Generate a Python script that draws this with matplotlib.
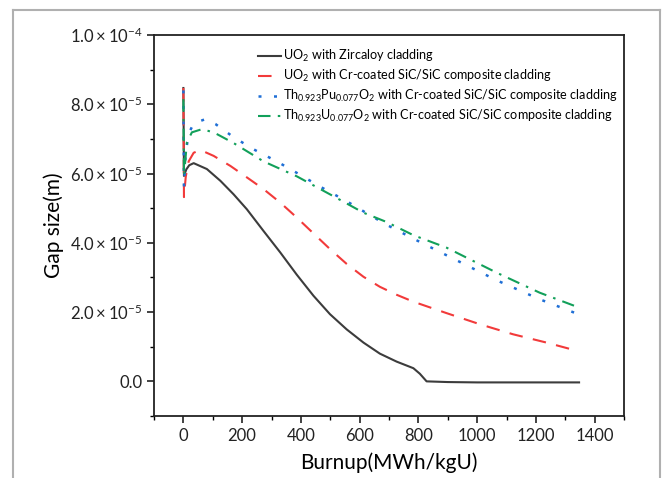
import matplotlib
matplotlib.use("Agg")
import matplotlib.pyplot as plt
import numpy as np
from matplotlib.ticker import MultipleLocator, FuncFormatter
from matplotlib.lines import Line2D

plt.rcParams['font.family'] = ['Lato', 'DejaVu Sans']
plt.rcParams['mathtext.fontset'] = 'custom'
plt.rcParams['mathtext.rm'] = 'Lato'
plt.rcParams['mathtext.it'] = 'Lato:italic'
plt.rcParams['mathtext.bf'] = 'Lato:bold'

# ---- data (burnup MWh/kgU, gap size in 1e-5 m) ----
uo2_zr_x = [0, 2, 10, 20, 35, 80, 126, 171, 216, 273, 330, 386, 443, 499, 556, 613, 669, 726, 783, 805, 828, 900, 1000, 1200, 1347]
uo2_zr_y = [8.47, 5.93, 6.12, 6.24, 6.30, 6.13, 5.79, 5.40, 4.97, 4.34, 3.72, 3.08, 2.47, 1.94, 1.50, 1.12, 0.80, 0.57, 0.38, 0.22, 0.00, -0.02, -0.03, -0.03, -0.03]

uo2_sic_x = [0, 2, 8, 18, 35, 58, 103, 160, 216, 273, 330, 386, 443, 499, 556, 613, 669, 726, 783, 896, 1009, 1122, 1236, 1345]
uo2_sic_y = [8.47, 5.32, 5.90, 6.35, 6.60, 6.68, 6.51, 6.22, 5.89, 5.55, 5.16, 4.73, 4.27, 3.82, 3.39, 3.02, 2.73, 2.50, 2.30, 1.97, 1.65, 1.36, 1.12, 0.87]

thpu_x = [0, 2, 8, 18, 35, 75, 109, 171, 239, 318, 386, 466, 556, 635, 692, 783, 896, 1066, 1213, 1335]
thpu_y = [8.40, 5.60, 6.60, 7.15, 7.45, 7.57, 7.43, 7.05, 6.70, 6.35, 6.02, 5.62, 5.20, 4.80, 4.52, 4.12, 3.64, 2.92, 2.37, 1.97]

thu_x = [0, 2, 12, 29, 63, 103, 171, 273, 386, 499, 613, 692, 783, 896, 1066, 1213, 1347]
thu_y = [8.15, 5.93, 6.90, 7.19, 7.28, 7.19, 6.88, 6.35, 5.92, 5.40, 4.87, 4.60, 4.22, 3.86, 3.14, 2.56, 2.13]

labels = [
    r'UO$_2$ with Zircaloy cladding',
    r'UO$_2$ with Cr-coated SiC/SiC composite cladding',
    r'Th$_{0.923}$Pu$_{0.077}$O$_2$ with Cr-coated SiC/SiC composite cladding',
    r'Th$_{0.923}$U$_{0.077}$O$_2$ with Cr-coated SiC/SiC composite cladding',
]

fig = plt.figure(figsize=(6.63, 4.78), dpi=100)
ax = fig.add_axes([154/663, 1-416/478, 470/663, 381/478])

scale = 1e-5
ax.plot(uo2_zr_x, np.array(uo2_zr_y)*scale, color='#3c3c3c', lw=1.5, label=labels[0])
ax.plot(uo2_sic_x, np.array(uo2_sic_y)*scale, color='#f23a3a', lw=1.5, dashes=(6.5, 5), label=labels[1])
ax.plot(thpu_x, np.array(thpu_y)*scale, color='#1f6fd6', lw=1.8, dashes=(1.2, 5), label=labels[2])
ax.plot(thu_x, np.array(thu_y)*scale, color='#12a05a', lw=1.5, dashes=(6, 3.5, 1.2, 3.5), label=labels[3])

ax.set_xlim(-100, 1500)
ax.set_ylim(-1e-5, 1e-4)
ax.xaxis.set_major_locator(MultipleLocator(200))
ax.xaxis.set_minor_locator(MultipleLocator(100))
ax.yaxis.set_major_locator(MultipleLocator(2e-5))
ax.yaxis.set_minor_locator(MultipleLocator(1e-5))

def yfmt(v, pos):
    if abs(v) < 1e-12:
        return '0.0'
    e = int(np.floor(np.log10(abs(v)) + 1e-9))
    m = v / 10**e
    return r'$%.1f\times10^{%d}$' % (m, e)

ax.yaxis.set_major_formatter(FuncFormatter(yfmt))
ax.tick_params(axis='both', which='major', direction='out', length=5, width=1.2, labelsize=12, colors='#222222')
ax.tick_params(axis='both', which='minor', direction='out', length=3, width=1.0)
ax.tick_params(top=False, right=False)
for s in ax.spines.values():
    s.set_linewidth(1.3)
    s.set_color('#222222')

ax.set_xlabel('Burnup(MWh/kgU)', fontsize=15, labelpad=6)
ax.set_ylabel('Gap size(m)', fontsize=15, labelpad=4)

ax.legend(loc='upper left', bbox_to_anchor=(0.205, 0.985), frameon=False, fontsize=9.1,
          handlelength=1.8, handletextpad=0.15, labelspacing=0.3, borderaxespad=0.2)

# outer gray frame
fc = '#b0b0b0'
fig.add_artist(Line2D([13/663, 13/663], [0, 1-10/478], color=fc, lw=1.5, transform=fig.transFigure))
fig.add_artist(Line2D([660/663, 660/663], [0, 1-10/478], color=fc, lw=1.5, transform=fig.transFigure))
fig.add_artist(Line2D([13/663, 660/663], [1-10/478, 1-10/478], color=fc, lw=1.5, transform=fig.transFigure))

fig.savefig('out.png', dpi=100)
